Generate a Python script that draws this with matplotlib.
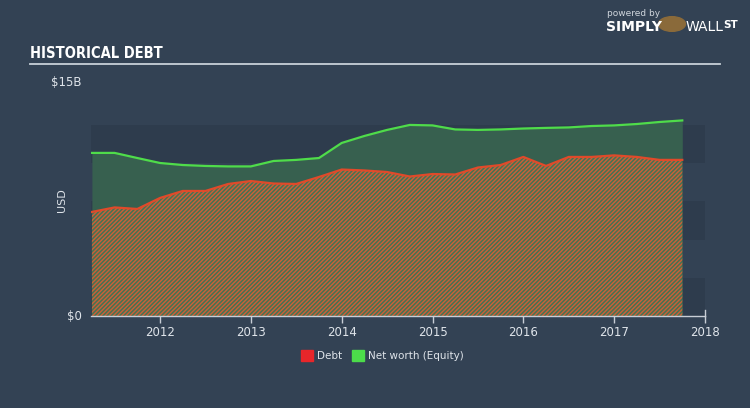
import matplotlib
matplotlib.use("Agg")
import matplotlib.pyplot as plt
import numpy as np
from matplotlib.patches import Rectangle

# ---- data (USD billions, quarterly) ----
dates = [2011.25, 2011.5, 2011.75, 2012.0, 2012.25, 2012.5, 2012.75,
         2013.0, 2013.25, 2013.5, 2013.75, 2014.0, 2014.25, 2014.5,
         2014.75, 2015.0, 2015.25, 2015.5, 2015.75, 2016.0, 2016.25,
         2016.5, 2016.75, 2017.0, 2017.25, 2017.5, 2017.75]
net_worth = [10.50, 10.50, 10.17, 9.85, 9.72, 9.66, 9.63, 9.63, 9.98,
             10.05, 10.17, 11.14, 11.59, 11.98, 12.30, 12.27, 12.01,
             11.98, 12.01, 12.07, 12.11, 12.14, 12.23, 12.27, 12.36,
             12.49, 12.59]
debt = [6.70, 6.99, 6.89, 7.60, 8.05, 8.05, 8.50, 8.69, 8.53, 8.50,
        8.95, 9.43, 9.37, 9.27, 8.98, 9.14, 9.11, 9.56, 9.72, 10.24,
        9.66, 10.24, 10.24, 10.34, 10.24, 10.05, 10.05]
year_ticks = [2012, 2013, 2014, 2015, 2016, 2017, 2018]
y_tick_vals = [0, 15]
y_tick_labels = ["$0", "$15B"]
band_top = 12.3
legend_labels = ["Debt", "Net worth (Equity)"]

BG = "#334254"
BAND = "#2e3c4d"
GREEN_LINE = "#4fdc4a"
GREEN_FILL = "#37604f"
RED_LINE = "#e04a2a"
TEXT = "#dfe4ea"

plt.rcParams['hatch.linewidth'] = 1.0

fig = plt.figure(figsize=(7.5, 4.08), dpi=100, facecolor=BG)
ax = fig.add_axes([91/750, 92/408, 614/750, 233/408])
ax.set_facecolor(BG)
ax.set_xlim(dates[0] - 0.01, 2018.0)
ax.set_ylim(0, 15)

# background bands
nb = 5
bh = band_top / nb
for i in range(nb):
    if i % 2 == 0:
        ax.axhspan(i * bh, (i + 1) * bh, color=BAND, lw=0, zorder=0)

x = np.array(dates)
ax.fill_between(x, 0, net_worth, color=GREEN_FILL, lw=0, zorder=1)
ax.fill_between(x, 0, debt, facecolor="#467352", edgecolor="#cc5f38",
                hatch="////////", lw=0, zorder=2)
ax.plot(x, net_worth, color=GREEN_LINE, lw=1.6, zorder=3)
ax.plot(x, debt, color=RED_LINE, lw=1.6, zorder=3)

for s in ["top", "right", "left"]:
    ax.spines[s].set_visible(False)
ax.spines["bottom"].set_color("#c8ced6")
ax.spines["bottom"].set_linewidth(1.0)
ax.set_xticks(year_ticks)
ax.set_xticklabels([str(y) for y in year_ticks])
ax.tick_params(axis="x", colors="#c8ced6", labelcolor=TEXT, length=5,
               width=1, labelsize=8.5, pad=2)
ax.set_yticks([])
# end bracket at right edge
ax.plot([1.0, 1.0], [0, 0.025], transform=ax.transAxes, color="#c8ced6",
        lw=1, clip_on=False, zorder=4)

# y labels
for v, lab in zip(y_tick_vals, y_tick_labels):
    ax.text(-0.015, v, lab, transform=ax.get_yaxis_transform(),
            ha="right", va="center", color=TEXT, fontsize=8.5)
fig.text(62/750, 1 - 200/408, "USD", rotation=90, ha="center",
         va="center", color=TEXT, fontsize=8)

# title and rule
fig.text(30/750, 1 - 53/408, "HISTORICAL DEBT", color="white",
         fontsize=10.5, fontweight="bold", fontstretch="condensed",
         family="DejaVu Sans", ha="left", va="center")
fig.add_artist(plt.Line2D([30/750, 720/750], [1 - 64/408, 1 - 64/408],
                          color="#c8d0d8", lw=1.3))

# legend
fig.add_artist(Rectangle((301/750, 1 - 361/408), 12/750, 11/408,
                         color="#e8262a", transform=fig.transFigure))
fig.text(317/750, 1 - 356/408, legend_labels[0], color=TEXT, fontsize=7.5,
         va="center", ha="left")
fig.add_artist(Rectangle((352/750, 1 - 361/408), 12/750, 11/408,
                         color="#4cdc4a", transform=fig.transFigure))
fig.text(368/750, 1 - 356/408, legend_labels[1], color=TEXT, fontsize=7.5,
         va="center", ha="left")

# logo text
fig.text(607/750, 1 - 14/408, "powered by", color="#cfd5dc", fontsize=6.5,
         ha="left", va="center")
fig.text(606/750, 1 - 27/408, "SIMPLY", color="white", fontsize=10,
         fontweight="bold", ha="left", va="center")
fig.add_artist(plt.Circle((672/750, 1 - 24/408), 0.018,
                          color="#8a6a3a", transform=fig.transFigure))
fig.text(686/750, 1 - 27/408, "WALL", color="white", fontsize=10,
         ha="left", va="center")
fig.text(723/750, 1 - 25/408, "ST", color="white", fontsize=7.5,
         fontweight="bold", ha="left", va="center")

fig.savefig("out.png", dpi=100, facecolor=BG)
